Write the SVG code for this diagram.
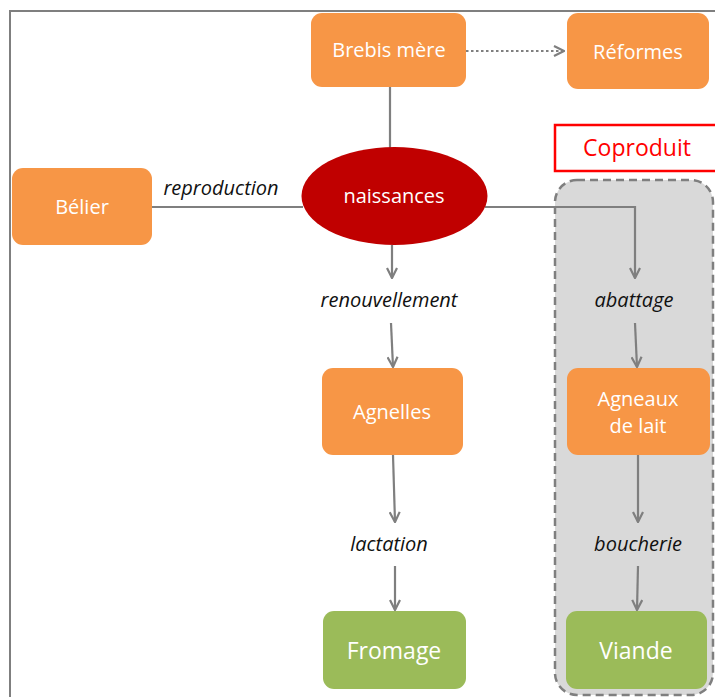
<svg xmlns="http://www.w3.org/2000/svg" width="715" height="697" viewBox="0 0 715 697">
<defs>
<marker id="arr" viewBox="0 0 12 12" refX="11" refY="6" markerWidth="12" markerHeight="12" markerUnits="userSpaceOnUse" orient="auto">
<path d="M1,1 L11,6 L1,11" fill="none" stroke="#7f7f7f" stroke-width="2.2"/>
</marker>
</defs>
<style>
.box{fill:#f79646}
.green{fill:#9bbb59}
.lbl{font-family:"Open Sans","Liberation Sans",sans-serif;fill:#fff;text-anchor:middle;font-size:20px}
.big{font-size:23px}
.it{font-family:"Open Sans","Liberation Sans",sans-serif;font-style:italic;fill:#111;text-anchor:middle;font-size:20px}
.c{fill:none;stroke:#7f7f7f;stroke-width:2.2}
</style>
<rect x="0" y="0" width="715" height="697" fill="#fff"/>
<rect x="10" y="11" width="720" height="700" fill="none" stroke="#7f7f7f" stroke-width="2"/>
<g id="coproduit-group">
<rect x="555" y="180" width="158" height="515" rx="22" fill="#d9d9d9" stroke="#7f7f7f" stroke-width="2.5" stroke-dasharray="8,5"/>
</g>
<g id="coproduit">
<rect x="555" y="125" width="170" height="46" fill="#fff" stroke="#ff0000" stroke-width="2.5"/>
<text x="637" y="156" font-family="Open Sans,Liberation Sans,sans-serif" font-size="23" fill="#ff0000" text-anchor="middle">Coproduit</text>
</g>
<g id="connectors">
<line class="c" x1="390" y1="87" x2="390" y2="150"/>
<line class="c" x1="152" y1="207" x2="303" y2="207"/>
<line class="c" x1="466" y1="51" x2="564" y2="51" stroke-dasharray="2.5,2.5" marker-end="url(#arr)"/>
<line class="c" x1="392" y1="245" x2="392" y2="278" marker-end="url(#arr)"/>
<line class="c" x1="391" y1="323" x2="393" y2="367" marker-end="url(#arr)"/>
<line class="c" x1="393" y1="455" x2="395" y2="522" marker-end="url(#arr)"/>
<line class="c" x1="395" y1="566" x2="395" y2="610" marker-end="url(#arr)"/>
<polyline class="c" points="485,207 635,207 635,278" marker-end="url(#arr)"/>
<line class="c" x1="635" y1="323" x2="637" y2="367" marker-end="url(#arr)"/>
<line class="c" x1="638" y1="455" x2="638" y2="522" marker-end="url(#arr)"/>
<line class="c" x1="638" y1="566" x2="637" y2="610" marker-end="url(#arr)"/>
<text class="it" x="221" y="195">reproduction</text>
<text class="it" x="389" y="307">renouvellement</text>
<text class="it" x="634" y="307">abattage</text>
<text class="it" x="389" y="551">lactation</text>
<text class="it" x="638" y="551">boucherie</text>
</g>
<g id="brebis"><rect class="box" x="311" y="13" width="155" height="74" rx="11"/><text class="lbl" x="389" y="57">Brebis mère</text></g>
<g id="reformes"><rect class="box" x="567" y="13" width="142" height="76" rx="11"/><text class="lbl" x="638" y="59">Réformes</text></g>
<g id="belier"><rect class="box" x="12" y="168" width="140" height="77" rx="11"/><text class="lbl" x="82" y="214">Bélier</text></g>
<g id="naissances"><ellipse cx="394.5" cy="196" rx="93" ry="49" fill="#c00000"/><text class="lbl" x="394" y="203">naissances</text></g>
<g id="agnelles"><rect class="box" x="322" y="368" width="141" height="87" rx="11"/><text class="lbl" x="392" y="419">Agnelles</text></g>
<g id="agneaux"><rect class="box" x="567" y="368" width="143" height="87" rx="11"/><text class="lbl" x="638" y="406">Agneaux</text><text class="lbl" x="638" y="433">de lait</text></g>
<g id="fromage"><rect class="green" x="323" y="611" width="143" height="78" rx="11"/><text class="lbl big" x="394" y="659">Fromage</text></g>
<g id="viande"><rect class="green" x="566" y="611" width="141" height="78" rx="11"/><text class="lbl big" x="636" y="659">Viande</text></g>
</svg>
